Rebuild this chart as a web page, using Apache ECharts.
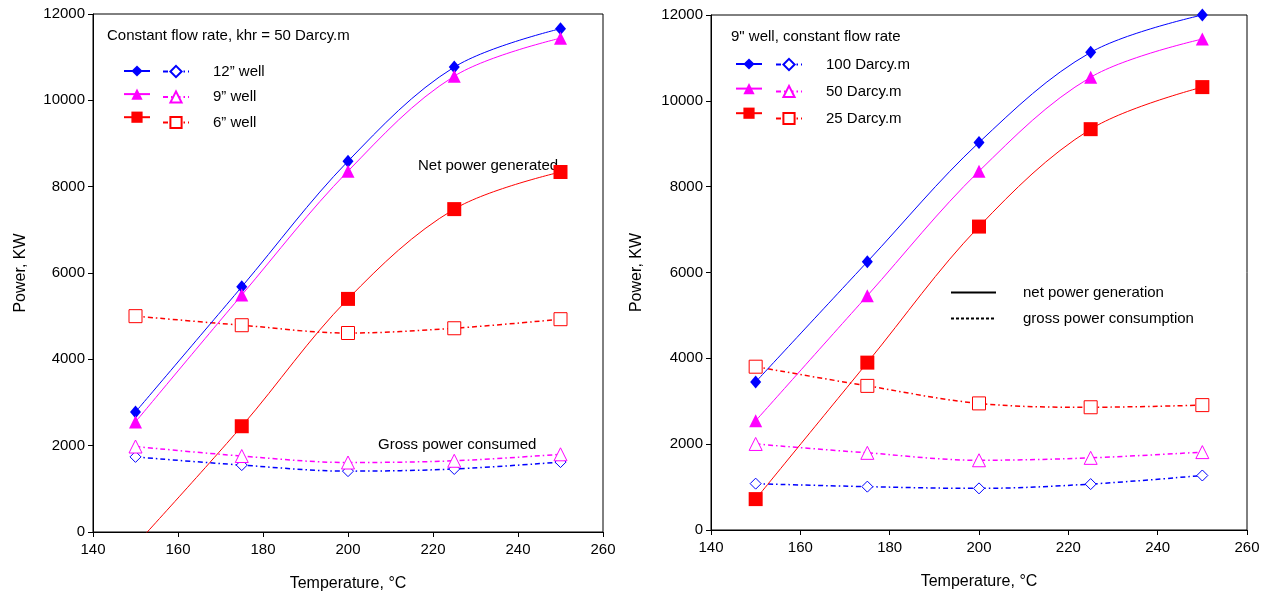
<!DOCTYPE html>
<html>
<head>
<meta charset="utf-8">
<script src="https://cdn.jsdelivr.net/npm/echarts@6/dist/echarts.min.js"></script>
<style>
  html, body { margin: 0; padding: 0; background: #fff; }
  #chart { width: 1271px; height: 601px; }
</style>
</head>
<body>
<div id="chart"></div>
<script>
// temperatures, degC
var temps = [150, 175, 200, 225, 250];
var xTicks = [140, 160, 180, 200, 220, 240, 260];

// left: constant flow rate, khr = 50 Darcy.m
var leftNames = ['12\u201d well', '9\u201d well', '6\u201d well'];
var netWell12 = [2780, 5680, 8590, 10770, 11660];
var netWell9 = [2550, 5490, 8360, 10560, 11440];
var netWell6 = [-300, 2450, 5400, 7480, 8340];
var grossWell12 = [1740, 1550, 1410, 1460, 1620];
var grossWell9 = [1980, 1760, 1610, 1650, 1800];
var grossWell6 = [5000, 4790, 4610, 4720, 4930];

// right: 9" well, constant flow rate
var rightNames = ['100 Darcy.m', '50 Darcy.m', '25 Darcy.m'];
var netK100 = [3450, 6250, 9030, 11130, 12000];
var netK50 = [2545, 5460, 8360, 10550, 11440];
var netK25 = [720, 3900, 7070, 9340, 10320];
var grossK100 = [1080, 1010, 970, 1070, 1270];
var grossK50 = [2005, 1798, 1625, 1681, 1815];
var grossK25 = [3805, 3358, 2950, 2860, 2910];

var colors = ['#0000ff', '#ff00ff', '#ff0000'];
var filledSym = [['diamond', [11, 13]], ['triangle', 13], ['rect', 14]];
var openSym = [['diamond', 11], ['triangle', 13], ['rect', 13]];
var font = '"Liberation Sans", Arial, sans-serif';

function pairs(vals) {
  return temps.map(function (t, i) { return [t, vals[i]]; });
}

function netSeries(name, vals, k, ax) {
  return {
    name: name, type: 'line', xAxisIndex: ax, yAxisIndex: ax,
    data: pairs(vals), smooth: 0.35, clip: true,
    symbol: filledSym[k][0], symbolSize: filledSym[k][1],
    lineStyle: { color: colors[k], width: 1 },
    itemStyle: { color: colors[k] },
    z: 3
  };
}

function grossSeries(name, vals, k, ax) {
  return {
    name: name, type: 'line', xAxisIndex: ax, yAxisIndex: ax,
    data: pairs(vals), smooth: 0.35, clip: true,
    symbol: openSym[k][0], symbolSize: openSym[k][1],
    lineStyle: { color: colors[k], width: 1.5, type: [5, 3, 1.5, 3] },
    itemStyle: { color: '#fff', borderColor: colors[k], borderWidth: 1 },
    z: 2
  };
}

var chart = echarts.init(document.getElementById('chart'));

function xAxis(idx) {
  return {
    type: 'value', gridIndex: idx, min: 140, max: 260, interval: 20,
    name: 'Temperature, \u00b0C', nameLocation: 'middle', nameGap: 44,
    nameTextStyle: { fontFamily: font, fontSize: 16, color: '#000' },
    axisLine: { lineStyle: { color: '#000', width: 1 } },
    axisTick: { show: true, length: 5, lineStyle: { color: '#000' } },
    axisLabel: { fontFamily: font, fontSize: 15, color: '#000', margin: 10 },
    splitLine: { show: false }
  };
}
function yAxis(idx, gap) {
  return {
    type: 'value', gridIndex: idx, min: 0, max: 12000, interval: 2000,
    name: 'Power, KW', nameLocation: 'middle', nameGap: gap,
    nameTextStyle: { fontFamily: font, fontSize: 16, color: '#000' },
    axisLine: { show: true, lineStyle: { color: '#000', width: 1 } },
    axisTick: { show: true, length: 5, lineStyle: { color: '#000' } },
    axisLabel: { fontFamily: font, fontSize: 15, color: '#000', margin: 8,
      formatter: function (v) { return String(v); } },
    splitLine: { show: false }
  };
}

var legendText = { fontFamily: font, fontSize: 15, color: '#000' };

var option = {
  animation: false,
  backgroundColor: '#fff',
  grid: [
    { left: 93, top: 14, width: 510, height: 518, show: true, borderColor: '#000', borderWidth: 1, containLabel: false },
    { left: 711, top: 15, width: 536, height: 515, show: true, borderColor: '#000', borderWidth: 1, containLabel: false }
  ],
  xAxis: [xAxis(0), xAxis(1)],
  yAxis: [yAxis(0, 64), yAxis(1, 66)],
  legend: [
    { left: 118, top: 59, orient: 'vertical', itemWidth: 26, itemHeight: 14, itemGap: 10.5,
      data: ['12 net', '9 net', '6 net'], formatter: function () { return ''; }, textStyle: legendText, selectedMode: false },
    { left: 157, top: 59, orient: 'vertical', itemWidth: 26, itemHeight: 14, itemGap: 10.5,
      data: leftNames, textStyle: Object.assign({ padding: [0, 0, 0, 19] }, legendText), selectedMode: false },
    { left: 730, top: 52, orient: 'vertical', itemWidth: 26, itemHeight: 14, itemGap: 12,
      data: ['100 net', '50 net', '25 net'], formatter: function () { return ''; }, textStyle: legendText, selectedMode: false },
    { left: 770, top: 52, orient: 'vertical', itemWidth: 26, itemHeight: 14, itemGap: 12,
      data: rightNames, textStyle: Object.assign({ padding: [0, 0, 0, 19] }, legendText), selectedMode: false },
    { left: 945, top: 280, orient: 'vertical', itemWidth: 45, itemHeight: 14, itemGap: 11,
      itemStyle: { opacity: 0 },
      data: ['net power generation', 'gross power consumption'], textStyle: Object.assign({ padding: [0, 0, 0, 22] }, legendText), selectedMode: false }
  ],
  graphic: [
    { type: 'text', left: 107, top: 28, style: { text: 'Constant flow rate, khr = 50 Darcy.m', font: '15px ' + font, fill: '#000' } },
    { type: 'text', left: 731, top: 29, style: { text: '9" well, constant flow rate', font: '15px ' + font, fill: '#000' } },
    { type: 'text', left: 418, top: 158, style: { text: 'Net power generated', font: '15px ' + font, fill: '#000' } },
    { type: 'text', left: 378, top: 437, style: { text: 'Gross power consumed', font: '15px ' + font, fill: '#000' } }
  ],
  series: [
    netSeries('12 net', netWell12, 0, 0),
    netSeries('9 net', netWell9, 1, 0),
    netSeries('6 net', netWell6, 2, 0),
    grossSeries(leftNames[0], grossWell12, 0, 0),
    grossSeries(leftNames[1], grossWell9, 1, 0),
    grossSeries(leftNames[2], grossWell6, 2, 0),
    netSeries('100 net', netK100, 0, 1),
    netSeries('50 net', netK50, 1, 1),
    netSeries('25 net', netK25, 2, 1),
    grossSeries(rightNames[0], grossK100, 0, 1),
    grossSeries(rightNames[1], grossK50, 1, 1),
    grossSeries(rightNames[2], grossK25, 2, 1),
    { name: 'net power generation', type: 'line', xAxisIndex: 1, yAxisIndex: 1, data: [], symbol: 'none',
      lineStyle: { color: '#000', width: 1 }, itemStyle: { color: '#000' } },
    { name: 'gross power consumption', type: 'line', xAxisIndex: 1, yAxisIndex: 1, data: [], symbol: 'none',
      lineStyle: { color: '#000', width: 1.5, type: [3, 2] }, itemStyle: { color: '#000' } }
  ]
};

chart.setOption(option);
window.addEventListener('resize', function () { chart.resize(); });
</script>
</body>
</html>
